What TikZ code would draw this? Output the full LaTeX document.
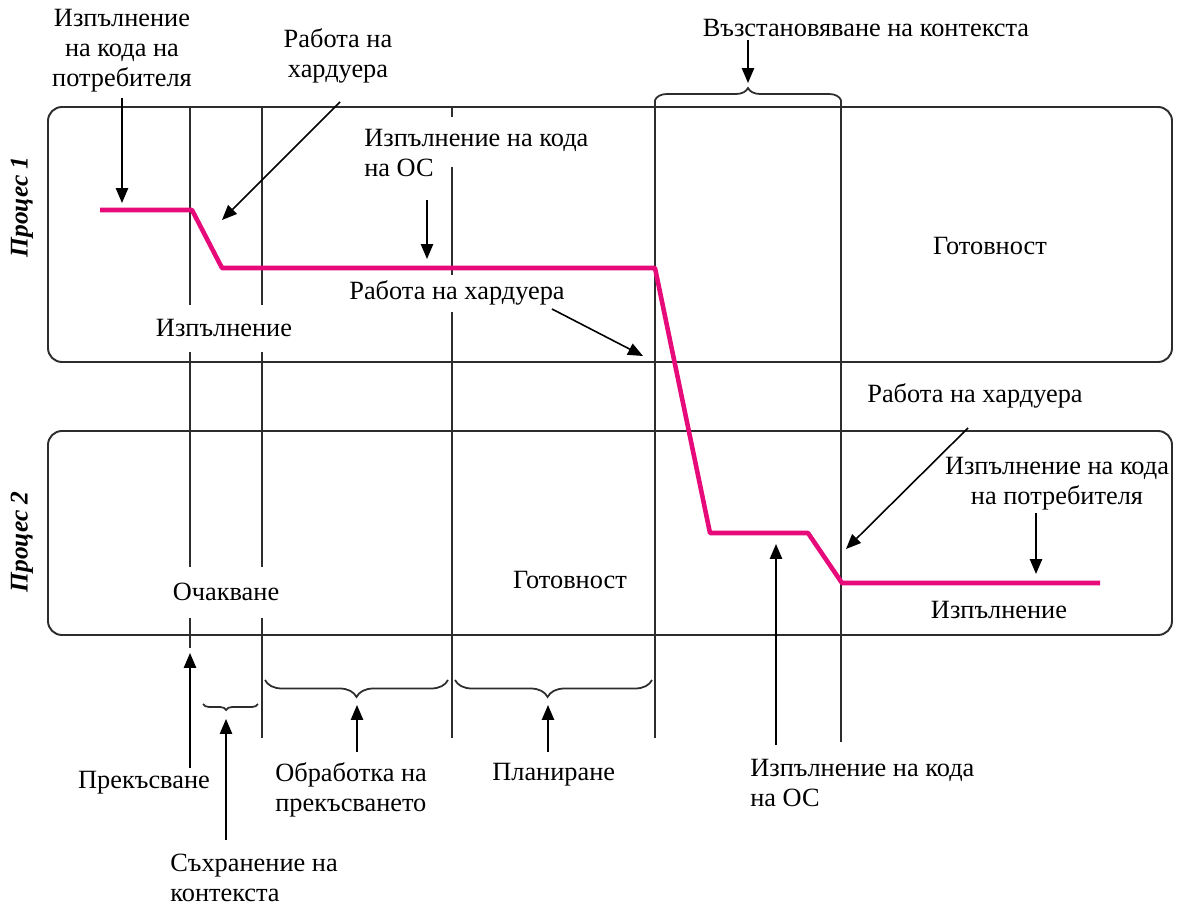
\documentclass[tikz,border=0pt]{standalone}
\usepackage{fontspec}
\setmainfont{Liberation Serif}
\usetikzlibrary{arrows.meta,decorations.pathreplacing}
\definecolor{tracepink}{RGB}{230,10,122}
\definecolor{ink}{RGB}{45,45,45}
\begin{document}
\begin{tikzpicture}[x=0.02cm,y=-0.02cm,
  frame/.style={draw=ink,line width=1.1pt,rounded corners=0.28cm},
  guide/.style={draw=ink,line width=1.1pt},
  pointer/.style={draw=black,line width=0.9pt,-{Triangle[length=8.5pt,width=7pt]}},
  lbl/.style={font=\fontsize{15}{17}\selectfont,inner sep=0pt,align=center},
  lbll/.style={lbl,align=left},
  proc/.style={font=\fontsize{14.5}{17}\selectfont\bfseries\itshape,rotate=90,inner sep=0pt},
  bracket/.style={draw=ink,line width=1pt,decorate,decoration={brace,amplitude=#1}},
  bracket/.default=0.3cm,
  timeline/.style={draw=tracepink,line width=2.6pt,line join=round}]
\useasboundingbox (0,0) rectangle (1177,905);

% process frames
\draw[frame] (48,107) rectangle (1172,362);
\draw[frame] (48,431) rectangle (1172,635);

% vertical time marks (broken where labels sit)
\draw[guide] (190,107) -- (190,305) (190,352) -- (190,567) (190,618) -- (190,648);
\draw[guide] (262,107) -- (262,305) (262,352) -- (262,567) (262,618) -- (262,738);
\draw[guide] (452,107) -- (452,117) (452,167) -- (452,275) (452,312) -- (452,738);
\draw[guide] (655,100) -- (655,738);
\draw[guide] (841,100) -- (841,742);

% braces
\draw[bracket=0.24cm] (655,100) -- (841,100);
\draw[bracket=0.12cm,decoration={aspect=0.58}] (258,704) -- (203,704);
\draw[bracket=0.34cm] (448,680) -- (265,680);
\draw[bracket=0.34cm,decoration={aspect=0.53}] (652,680) -- (455,680);

% labels
\node[proc] (p1) at (22,207) {Процес 1};
\node[proc] (p2) at (22,542) {Процес 2};
\node[lbl] (userL) at (122,51) {Изпълнение\\на кода на\\потребителя};
\node[lbl] (hwA) at (338,56) {Работа на\\хардуера};
\node[lbll,anchor=west] (osA) at (364,153) {Изпълнение на кода\\на ОС};
\node[lbl] (hwB) at (457,293) {Работа на хардуера};
\node[lbl] (restore) at (866,28) {Възстановяване на контекста};
\node[lbl] (ready1) at (990,246) {Готовност};
\node[lbl] (run1) at (224,328) {Изпълнение};
\node[lbl] (hwC) at (975,396) {Работа на хардуера};
\node[lbl] (userR) at (1057,484) {Изпълнение на кода\\на потребителя};
\node[lbl] (run2) at (999,610) {Изпълнение};
\node[lbl] (ready2) at (570,580) {Готовност};
\node[lbl] (wait2) at (226,592) {Очакване};
\node[lbl] (irq) at (144,783) {Прекъсване};
\node[lbll,anchor=west] (save) at (170,878) {Съхранение на\\контекста};
\node[lbll,anchor=west] (handle) at (275,790) {Обработка на\\прекъсването};
\node[lbl,anchor=west] (sched) at (492,775) {Планиране};
\node[lbll,anchor=west] (osB) at (750,783) {Изпълнение на кода\\на ОС};

% execution trace
\draw[timeline] (100,210) -- (192,210) -- (222,268) -- (655,268) -- (710,533)
  -- (808,533) -- (842,583) -- (1100,583);

% pointer ends
\coordinate (a1s) at (122,98);   \coordinate (a1e) at (122,203);
\coordinate (a2s) at (340,102);  \coordinate (a2e) at (222,220);
\coordinate (a3s) at (427,200);  \coordinate (a3e) at (427,259);
\coordinate (a4s) at (552,309);  \coordinate (a4e) at (643,356);
\coordinate (a5s) at (748,40);   \coordinate (a5e) at (748,83);
\coordinate (a6s) at (968,428);  \coordinate (a6e) at (846,549);
\coordinate (a7s) at (1036,513); \coordinate (a7e) at (1036,574);
\coordinate (a8s) at (776,745);  \coordinate (a8e) at (776,544);
\coordinate (a9s) at (190,768);  \coordinate (a9e) at (190,653);
\coordinate (a10s) at (226,840); \coordinate (a10e) at (226,719);
\coordinate (a11s) at (357,752); \coordinate (a11e) at (357,705);
\coordinate (a12s) at (548,752); \coordinate (a12e) at (548,705);

\foreach \k in {1,...,12}{\draw[pointer] (a\k s) -- (a\k e);}
\end{tikzpicture}
\end{document}
